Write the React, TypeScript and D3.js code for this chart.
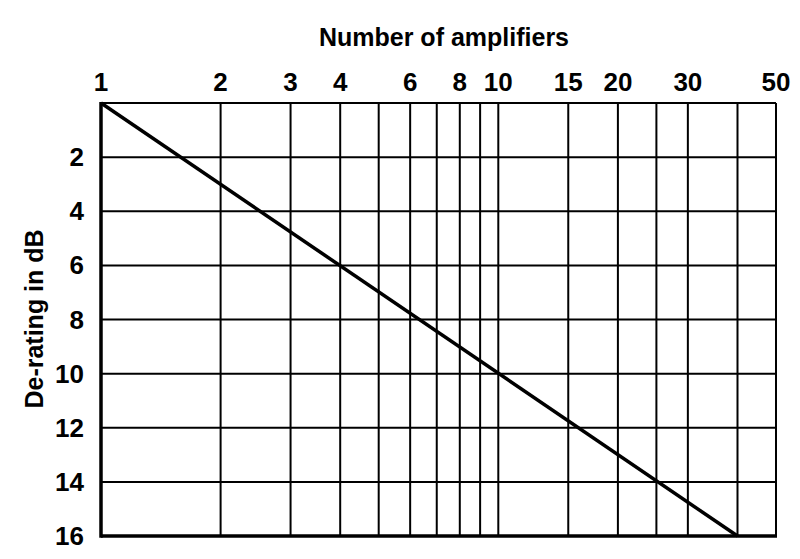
import React from "react";
import * as d3 from "d3";

const xTickLabels = [1, 2, 3, 4, 6, 8, 10, 15, 20, 30, 50];
const xGridValues = [2, 3, 4, 5, 6, 7, 8, 9, 10, 15, 20, 25, 30, 40];
const yTickValues = [2, 4, 6, 8, 10, 12, 14, 16];
const yGridValues = [2, 4, 6, 8, 10, 12, 14];
const lineAmplifiers = [1, 40];
const lineDerating = [0, 16];

export default function App() {
  const W = 800, H = 559;
  const left = 101, right = 776, top = 103, bottom = 536;
  const x = d3.scaleLog().domain([1, 50]).range([left, right]);
  const y = d3.scaleLinear().domain([0, 16]).range([top, bottom]);
  const pts: [number, number][] = lineAmplifiers.map((n, i) => [n, lineDerating[i]]);
  const line = d3.line<[number, number]>().x(d => x(d[0])).y(d => y(d[1]));
  const font = "'Liberation Sans', Arial, Helvetica, sans-serif";
  return (
    <svg width={W} height={H} style={{ position: "absolute", left: 0, top: 0, background: "#fff" }}>
      <rect x={0} y={0} width={W} height={H} fill="#fff" />
      {xGridValues.map(v => (
        <line key={"xg" + v} x1={x(v)} x2={x(v)} y1={top} y2={bottom} stroke="#000" strokeWidth={2} />
      ))}
      {yGridValues.map(v => (
        <line key={"yg" + v} x1={left} x2={right} y1={y(v)} y2={y(v)} stroke="#000" strokeWidth={2} />
      ))}
      <line x1={left} x2={right} y1={top} y2={top} stroke="#000" strokeWidth={2} />
      <line x1={right} x2={right} y1={top} y2={bottom} stroke="#000" strokeWidth={2} />
      <line x1={left} x2={left} y1={top - 1} y2={bottom + 1.75} stroke="#000" strokeWidth={3.5} />
      <line x1={left} x2={right + 1} y1={bottom} y2={bottom} stroke="#000" strokeWidth={3.5} />
      <path d={line(pts) || ""} fill="none" stroke="#000" strokeWidth={3.5} />
      {xTickLabels.map(v => (
        <text key={"xt" + v} x={x(v)} y={91} textAnchor="middle" fontFamily={font} fontWeight="bold" fontSize={26}>{v}</text>
      ))}
      {yTickValues.map(v => (
        <text key={"yt" + v} x={84} y={y(v) + 9} textAnchor="end" fontFamily={font} fontWeight="bold" fontSize={26}>{v}</text>
      ))}
      <text x={444} y={46} textAnchor="middle" fontFamily={font} fontWeight="bold" fontSize={25}>Number of amplifiers</text>
      <text transform="translate(43,319) rotate(-90)" textAnchor="middle" fontFamily={font} fontWeight="bold" fontSize={25}>De-rating in dB</text>
    </svg>
  );
}
